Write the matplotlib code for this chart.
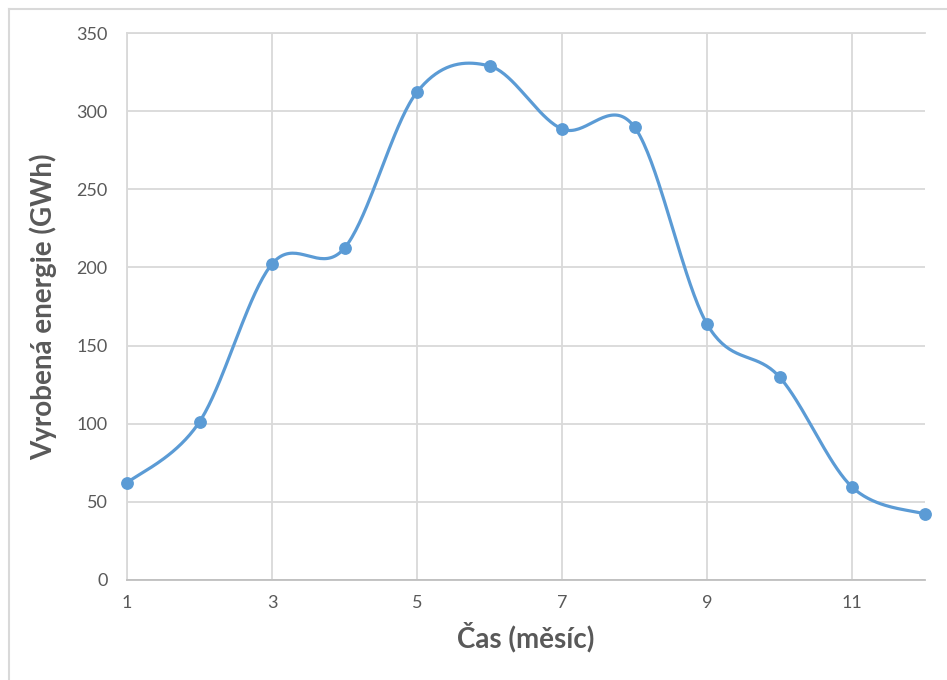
import numpy as np
import matplotlib.pyplot as plt
from matplotlib.lines import Line2D

plt.rcParams['font.family'] = ['Lato', 'DejaVu Sans']

months = [1, 2, 3, 4, 5, 6, 7, 8, 9, 10, 11, 12]
energy = [62.1, 101.2, 202.2, 212.4, 312.2, 328.9, 288.6, 289.8, 163.8, 129.9, 59.5, 42.2]
x_ticks = [1, 3, 5, 7, 9, 11]
y_ticks = [0, 50, 100, 150, 200, 250, 300, 350]

blue = '#5B9BD5'
grid = '#D9D9D9'
text_grey = '#595959'


def smooth_curve(xs, ys, steps=40):
    """Spreadsheet-style smoothing: cubic Bezier pieces with 1/6 tangents."""
    p = np.column_stack([xs, ys]).astype(float)
    n = len(p)
    out = []
    t = np.linspace(0, 1, steps)[:, None]
    for i in range(n - 1):
        p0 = p[i - 1] if i > 0 else p[i]
        p1, p2 = p[i], p[i + 1]
        p3 = p[i + 2] if i + 2 < n else p[i + 1]
        c1 = p1 + (p2 - p0) / 6
        c2 = p2 - (p3 - p1) / 6
        seg = ((1 - t) ** 3) * p1 + 3 * ((1 - t) ** 2) * t * c1 \
            + 3 * (1 - t) * t ** 2 * c2 + t ** 3 * p2
        out.append(seg if i == 0 else seg[1:])
    out = np.vstack(out)
    return out[:, 0], out[:, 1]


fig = plt.figure(figsize=(9.47, 6.8), dpi=100)
ax = fig.add_axes([127 / 947, 1 - 580 / 680, (924.5 - 127) / 947, (580 - 33) / 680])

sx, sy = smooth_curve(months, energy)
ax.plot(sx, sy, color=blue, lw=2.3, solid_capstyle='round', zorder=3, clip_on=False)
ax.plot(months, energy, 'o', color=blue, ms=8.2, zorder=4, clip_on=False)

ax.set_xlim(1, 12)
ax.set_ylim(0, 350)
ax.set_xticks(x_ticks)
ax.set_yticks(y_ticks)
ax.tick_params(length=0, labelsize=13, labelcolor=text_grey)
ax.tick_params(axis='x', pad=11)
ax.tick_params(axis='y', pad=14)

ax.grid(True, color=grid, lw=1.3)
ax.set_axisbelow(True)
for side in ['top', 'right']:
    ax.spines[side].set_visible(False)
ax.spines['left'].set_color(grid)
ax.spines['left'].set_linewidth(1.3)
ax.spines['bottom'].set_color('#BFBFBF')
ax.spines['bottom'].set_linewidth(1.3)
# top gridline closes the plot area
ax.axhline(350, color=grid, lw=1.3, zorder=0, clip_on=False)

ax.set_xlabel('Čas (měsíc)', fontsize=20, fontweight='bold', color=text_grey, labelpad=8)
ax.set_ylabel('Vyrobená energie (GWh)', fontsize=20, fontweight='bold', color=text_grey, labelpad=14)

# chart frame
fig.add_artist(Line2D([9 / 947, 1], [1 - 9 / 680, 1 - 9 / 680], color=grid, lw=1.5))
fig.add_artist(Line2D([9 / 947, 9 / 947], [0, 1 - 9 / 680], color=grid, lw=1.5))

fig.savefig('out.png', dpi=100)
